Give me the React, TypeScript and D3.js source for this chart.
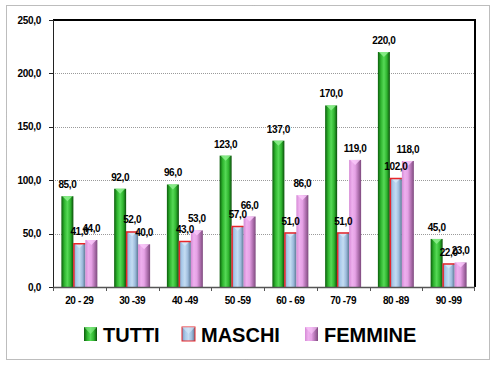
import React from 'react';
import * as d3 from 'd3';

const categories = ['20 - 29', '30 -39', '40 -49', '50 -59', '60 - 69', '70 -79', '80 -89', '90 -99'];
const series = ['TUTTI', 'MASCHI', 'FEMMINE'];
const tutti = [85, 92, 96, 123, 137, 170, 220, 45];
const maschi = [41, 52, 43, 57, 51, 51, 102, 22];
const femmine = [44, 40, 53, 66, 86, 119, 118, 23];
const yTicks = [0, 50, 100, 150, 200, 250];

const values = [tutti, maschi, femmine];

const styles = [
    {id: 'gTutti', stops: ['#0b5e0b', '#2fb52f', '#56d956', '#2fb52f', '#0a4f0a'], cap: '#8ef08e', edge: null},
    {id: 'gMaschi', stops: ['#7a9cc0', '#a9c9ea', '#c4dcf2', '#9dbbdc', '#5c7894'], cap: '#d6e8f8', edge: '#e8262a'},
    {id: 'gFemmine', stops: ['#d68ad6', '#eeb0ee', '#e6a2e6', '#b474b4', '#7e4a7e'], cap: '#fac8fa', edge: null},
];

const fmt = (v: number) => v.toFixed(1).replace('.', ',');

const App: React.FC = () => {
    const width = 496;
    const height = 366;
    const left = 53, right = 475, top = 20, bottom = 287;

    const x = d3.scaleBand<string>().domain(categories).range([left, right]);
    const xi = d3.scaleBand<string>().domain(series).range([0, x.bandwidth()]).paddingOuter(0.7);
    const y = d3.scaleLinear().domain([0, 250]).range([bottom, top]);

    const font = '"Liberation Sans", Arial, sans-serif';

    return (
        <svg width={width} height={height} style={{position: 'absolute', left: 0, top: 0, background: '#fff'}}>
            <defs>
                {styles.map(s => (
                    <linearGradient key={s.id} id={s.id} x1="0" x2="1" y1="0" y2="0">
                        {s.stops.map((c, i) => (
                            <stop key={i} offset={i / (s.stops.length - 1)} stopColor={c}/>
                        ))}
                    </linearGradient>
                ))}
            </defs>
            <rect x={6.5} y={5.5} width={483} height={354} fill="#fff" stroke="#7a7a7a" strokeDasharray="1,1"/>

            {/* gridlines */}
            {yTicks.filter(t => t > 0 && t < 250).map(t => (
                <line key={t} x1={left} x2={right} y1={Math.round(y(t)) + 0.5} y2={Math.round(y(t)) + 0.5}
                      stroke="#9a9a9a" strokeDasharray="1,1"/>
            ))}

            {/* bars */}
            {series.map((s, si) => values[si].map((v, ci) => {
                const bx = (x(categories[ci]) as number) + (xi(s) as number);
                const bw = xi.bandwidth();
                const by = y(v);
                const st = styles[si];
                return (
                    <g key={s + ci}>
                        <rect x={bx} y={by} width={bw} height={bottom - by} fill={`url(#${st.id})`}/>
                        <polygon points={`${bx + 1},${by} ${bx + bw - 1},${by} ${bx + bw / 2},${by + 5}`}
                                 fill={st.cap} opacity={0.85}/>
                        {st.edge && (
                            <path d={`M${bx + 0.5},${bottom} V${by + 0.5} H${bx + bw}`} fill="none"
                                  stroke={st.edge} strokeWidth={1.5}/>
                        )}
                    </g>
                );
            }))}

            {/* value labels */}
            {series.map((s, si) => values[si].map((v, ci) => {
                const cx = (x(categories[ci]) as number) + (xi(s) as number) + xi.bandwidth() / 2;
                return (
                    <text key={'l' + s + ci} x={cx} y={y(v) - 8} textAnchor="middle" fontFamily={font}
                          fontWeight="bold" fontSize={10} letterSpacing={-0.4} fill="#000">{fmt(v)}</text>
                );
            }))}

            {/* axes frame */}
            <line x1={left} x2={right + 1} y1={top} y2={top} stroke="#000" strokeWidth={2}/>
            <line x1={right} x2={right} y1={top} y2={bottom} stroke="#000" strokeWidth={2}/>
            <line x1={left + 0.5} x2={left + 0.5} y1={top} y2={bottom} stroke="#222" strokeWidth={1}/>
            <line x1={left} x2={right} y1={bottom + 0.5} y2={bottom + 0.5} stroke="#555" strokeWidth={1.5}/>

            {/* y ticks */}
            {yTicks.map(t => (
                <g key={'y' + t}>
                    <line x1={left - 4} x2={left} y1={Math.round(y(t)) + 0.5} y2={Math.round(y(t)) + 0.5} stroke="#222"/>
                    <text x={41} y={y(t) + 3.5} textAnchor="end" fontFamily={font} fontWeight="bold"
                          fontSize={10} letterSpacing={-0.3} fill="#000">{fmt(t)}</text>
                </g>
            ))}

            {/* x ticks */}
            {categories.map((c, i) => (
                <line key={'xt' + c} x1={Math.round(x(c) as number) + 0.5} x2={Math.round(x(c) as number) + 0.5}
                      y1={bottom} y2={bottom + 4} stroke="#555"/>
            ))}
            <line x1={right - 0.5} x2={right - 0.5} y1={bottom} y2={bottom + 4} stroke="#555"/>
            {categories.map(c => (
                <text key={'xl' + c} x={(x(c) as number) + x.bandwidth() / 2} y={304} textAnchor="middle"
                      fontFamily={font} fontWeight="bold" fontSize={10} letterSpacing={-0.4}
                      fill="#000">{c}</text>
            ))}

            {/* legend */}
            {series.map((s, si) => {
                const lx = [84, 182, 305][si];
                const st = styles[si];
                return (
                    <g key={'lg' + s}>
                        <rect x={lx} y={327} width={13} height={14} fill={`url(#${st.id})`}
                              stroke={st.edge || 'none'} strokeWidth={1}/>
                        <polygon points={`${lx},${327} ${lx + 13},${327} ${lx + 6.5},${334}`}
                                 fill={st.cap} opacity={0.6}/>
                        <text x={lx + 19} y={342} fontFamily={font} fontWeight="bold" fontSize={20}
                              fill="#000">{s}</text>
                    </g>
                );
            })}
        </svg>
    );
};

export default App;
